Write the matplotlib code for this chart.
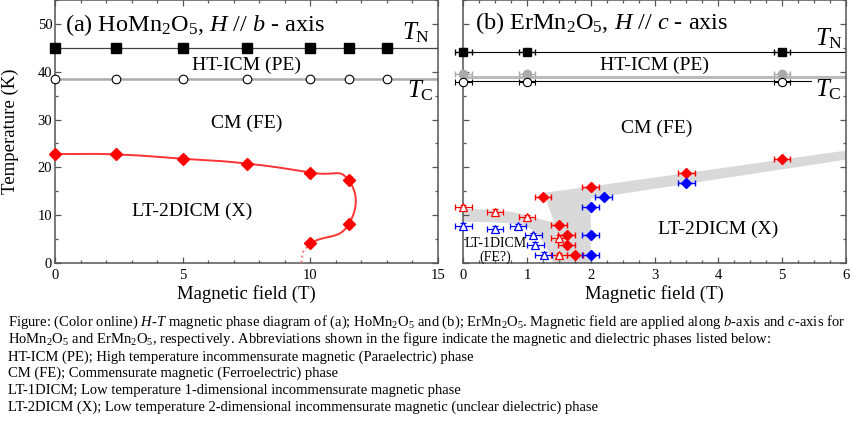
import numpy as np
import matplotlib
matplotlib.use('Agg')
import matplotlib.pyplot as plt
from matplotlib.ticker import MultipleLocator

plt.rcParams['font.family'] = ['Liberation Serif', 'DejaVu Serif']
plt.rcParams['mathtext.fontset'] = 'custom'
plt.rcParams['mathtext.rm'] = 'Liberation Serif'
plt.rcParams['mathtext.it'] = 'Liberation Serif:italic'
plt.rcParams['mathtext.bf'] = 'Liberation Serif:bold'

# ---------------- (a) HoMn2O5, H // b ----------------
a_tn_H = [0, 2.4, 5, 7.5, 10, 11.5, 13]
a_tn_T = [44.9, 44.9, 44.9, 44.9, 44.9, 44.9, 44.9]
a_tc_H = [0, 2.4, 5, 7.5, 10, 11.5, 13]
a_tc_T = [38.4, 38.4, 38.4, 38.4, 38.4, 38.4, 38.4]
a_lt_H = [0, 2.4, 5, 7.5, 10, 11.5, 11.5, 10]
a_lt_T = [22.8, 22.7, 21.8, 20.8, 18.9, 17.3, 8.1, 4.2]
a_tail_H = [10, 9.72, 9.66, 9.65]
a_tail_T = [4.2, 2.4, 1.0, 0]

# ---------------- (b) ErMn2O5, H // c ----------------
b_tn_H = [0, 1, 5]
b_tn_T = [44.1, 44.1, 44.1]
b_tc_H = [0, 1, 5]
b_tc_T = [37.9, 37.9, 37.9]
b_tc2_T = [39.5, 39.5, 39.5]
b_tc_line_T = 38.0
b_tc_line_end = 5.45
b_gray_line_T = 38.9
b_red_d_H = [1.25, 2.0, 3.5, 5.0, 1.5, 1.62, 1.62, 1.75]
b_red_d_T = [13.8, 15.8, 18.9, 21.7, 7.9, 5.8, 3.8, 1.7]
b_blue_d_H = [2.2, 2.0, 3.5, 2.0, 2.0]
b_blue_d_T = [13.8, 11.8, 16.8, 5.9, 1.7]
b_red_t_H = [0, 0.5, 1.0, 1.5, 1.5]
b_red_t_T = [11.7, 10.7, 9.6, 5.3, 1.6]
b_blue_t_H = [0, 0.5, 0.86, 1.1, 1.13, 1.26]
b_blue_t_T = [7.8, 7.2, 7.7, 5.8, 3.8, 1.7]
b_xerr = 0.13

# gray phase-boundary bands in (b)
band_hi_H = [1.28, 2.0, 6.0]
band_hi_T = [14.7, 16.0, 23.5]
band_lo_H = [2.0, 6.0]
band_lo_T = [13.5, 21.6]
block_left_H = [1.28, 1.33, 1.40, 1.46, 1.52]
block_left_T = [14.7, 12.0, 9.5, 6.0, 0.0]
block_right_H = 2.0
d1_top_H = [0, 0.5, 0.8, 1.0, 1.15, 1.3, 1.42]
d1_top_T = [11.3, 11.1, 10.6, 10.0, 9.4, 8.8, 8.5]
d1_bot_H = [0, 0.45, 0.75, 1.0, 1.15, 1.26, 1.36, 1.41]
d1_bot_T = [8.6, 8.5, 8.3, 7.6, 6.3, 4.2, 1.7, 0.0]

xlabel = 'Magnetic field (T)'
ylabel = 'Temperature (K)'

caption = [
    r'Figure: (Color online) $H$-$T$ magnetic phase diagram of (a); HoMn$_2$O$_5$ and (b); ErMn$_2$O$_5$. Magnetic field are applied along $b$-axis and $c$-axis for',
    r'HoMn$_2$O$_5$ and ErMn$_2$O$_5$, respectively. Abbreviations shown in the figure indicate the magnetic and dielectric phases listed below:',
    'HT-ICM (PE); High temperature incommensurate magnetic (Paraelectric) phase',
    'CM (FE); Commensurate magnetic (Ferroelectric) phase',
    'LT-1DICM; Low temperature 1-dimensional incommensurate magnetic phase',
    'LT-2DICM (X); Low temperature 2-dimensional incommensurate magnetic (unclear dielectric) phase',
]

W, H = 852, 423
fig = plt.figure(figsize=(W / 100, H / 100), dpi=100)
ax1 = fig.add_axes([55 / W, 160 / H, 383 / W, 263 / H])
ax2 = fig.add_axes([463.3 / W, 160 / H, 382.4 / W, 263 / H])

spc = '#555555'
for ax, xmax, xmaj, xmin in [(ax1, 15, 5, 1), (ax2, 6, 1, 0.25)]:
    ax.set_xlim(0, xmax)
    ax.set_ylim(0, 55)
    ax.xaxis.set_major_locator(MultipleLocator(xmaj))
    ax.xaxis.set_minor_locator(MultipleLocator(xmin))
    ax.yaxis.set_major_locator(MultipleLocator(10))
    ax.yaxis.set_minor_locator(MultipleLocator(5))
    ax.tick_params(which='both', direction='in', top=True, right=True,
                   color=spc, width=0.9, labelsize=10.5)
    ax.tick_params(which='major', length=4.5)
    ax.tick_params(which='minor', length=2.5)
    ax.tick_params(axis='x', pad=4)
    ax.tick_params(axis='y', pad=2)
    for s in ax.spines.values():
        s.set_color(spc)
        s.set_linewidth(1.1)
    ax.set_xlabel(xlabel, fontsize=13.5)
    ax.xaxis.set_label_coords(0.5, -0.083)

ax2.tick_params(axis='y', labelleft=False)
ax1.set_ylabel(ylabel, fontsize=13.5)
ax1.yaxis.set_label_coords(-0.093, 0.5)


def cardinal(ax, xs, ys, c=0.75, n=40):
    P = ax.transData.transform(np.column_stack([xs, ys]))
    Pe = np.vstack([2 * P[0] - P[1], P, 2 * P[-1] - P[-2]])
    t = np.linspace(0, 1, n)[:, None]
    h00 = 2 * t**3 - 3 * t**2 + 1
    h10 = t**3 - 2 * t**2 + t
    h01 = -2 * t**3 + 3 * t**2
    h11 = t**3 - t**2
    segs = []
    for i in range(len(P) - 1):
        p0, p1, p2, p3 = Pe[i:i + 4]
        m1 = c * (p2 - p0)
        m2 = c * (p3 - p1)
        segs.append(h00 * p1 + h10 * m1 + h01 * p2 + h11 * m2)
    S = np.vstack(segs)
    return ax.transData.inverted().transform(S)


# ---------------- panel (a) ----------------
ax1.axhline(np.mean(a_tn_T), color='#444444', lw=0.9, zorder=2)
ax1.axhline(np.mean(a_tc_T), color='#aaaaaa', lw=1.8, zorder=2)
ax1.errorbar(a_tn_H, a_tn_T, yerr=0.8, fmt='s', ms=6.8, color='black',
             mfc='black', mec='black', capsize=2, elinewidth=1, zorder=5,
             clip_on=False)
ax1.errorbar(a_tc_H, a_tc_T, yerr=0.5, fmt='o', ms=6.2, color='black',
             mfc='white', mec='black', mew=0.8, capsize=2, elinewidth=0.8,
             zorder=5, clip_on=False)
curve = cardinal(ax1, a_lt_H, a_lt_T)
ax1.plot(curve[:, 0], curve[:, 1], color='#ff3333', lw=1.4, zorder=3)
ax1.plot(a_tail_H, a_tail_T, color='#ff7777', lw=1.4, ls=':', zorder=3)
ax1.errorbar(a_lt_H, a_lt_T, yerr=0.6, fmt='D', ms=6, color='red',
             mfc='red', mec='red', capsize=2, elinewidth=1, zorder=6,
             clip_on=False)

ax1.text(0.39, 48.6, r'(a) HoMn$_2$O$_5$, $H$ // $b$ - axis', fontsize=17.5,
         ha='left', va='baseline')
ax1.text(13.58, 46.7, r'$T_{\mathrm{N}}$', fontsize=18, ha='left', va='baseline')
ax1.text(13.77, 34.7, r'$T_{\mathrm{C}}$', fontsize=18, ha='left', va='baseline')
ax1.text(7.5, 41.4, 'HT-ICM (PE)', fontsize=14, ha='center', va='center')
ax1.text(7.5, 29.2, 'CM (FE)', fontsize=14, ha='center', va='center')
ax1.text(5.39, 10.7, 'LT-2DICM (X)', fontsize=14, ha='center', va='center')

# ---------------- panel (b) ----------------
gray = '#d9d9d9'
up_x = band_hi_H + band_lo_H[::-1] + [block_right_H] + block_left_H[::-1]
up_y = band_hi_T + band_lo_T[::-1] + [0.0] + block_left_T[::-1]
ax2.fill(up_x, up_y, color=gray, lw=0, zorder=1)
d1_x = d1_top_H + [block_left_H[-1]] + d1_bot_H[::-1]
d1_y = d1_top_T + [0.0] + d1_bot_T[::-1]
ax2.fill(d1_x, d1_y, color=gray, lw=0, zorder=1)

ax2.axhline(np.mean(b_tn_T), color='black', lw=0.8, zorder=2)
ax2.axhline(b_gray_line_T, color='#bbbbbb', lw=2.2, zorder=2)
ax2.plot([0, b_tc_line_end], [b_tc_line_T, b_tc_line_T], color='black', lw=0.8, zorder=2)

ax2.errorbar(b_tc_H, b_tc2_T, xerr=b_xerr, fmt='o', ms=6, color='#aaaaaa',
             mfc='#aaaaaa', mec='#aaaaaa', capsize=2, elinewidth=1, zorder=4,
             clip_on=False)
ax2.errorbar(b_tn_H, b_tn_T, xerr=b_xerr, yerr=0.5, fmt='s', ms=6, color='black',
             mfc='black', mec='black', capsize=2, elinewidth=1, zorder=5,
             clip_on=False)
ax2.errorbar(b_tc_H, b_tc_T, xerr=b_xerr, fmt='o', ms=6, color='black',
             mfc='white', mec='black', mew=0.8, capsize=2, elinewidth=0.8,
             zorder=5, clip_on=False)
ax2.errorbar(b_red_t_H, b_red_t_T, xerr=b_xerr, yerr=0.5, fmt='^', ms=6,
             color='red', mfc='white', mec='red', mew=0.9, capsize=2,
             elinewidth=0.9, zorder=5, clip_on=False)
ax2.errorbar(b_blue_t_H, b_blue_t_T, xerr=b_xerr, yerr=0.5, fmt='^', ms=6,
             color='blue', mfc='white', mec='blue', mew=0.9, capsize=2,
             elinewidth=0.9, zorder=5, clip_on=False)
ax2.errorbar(b_red_d_H, b_red_d_T, xerr=b_xerr, fmt='D', ms=5.5, color='red',
             mfc='red', mec='red', capsize=2, elinewidth=1, zorder=6,
             clip_on=False)
ax2.errorbar(b_blue_d_H, b_blue_d_T, xerr=b_xerr, fmt='D', ms=5.5, color='blue',
             mfc='blue', mec='blue', capsize=2, elinewidth=1, zorder=6,
             clip_on=False)

ax2.text(0.18, 48.9, r'(b) ErMn$_2$O$_5$, $H$ // $c$ - axis', fontsize=17.5,
         ha='left', va='baseline')
ax2.text(5.52, 45.6, r'$T_{\mathrm{N}}$', fontsize=18, ha='left', va='baseline')
ax2.text(5.52, 34.8, r'$T_{\mathrm{C}}$', fontsize=18, ha='left', va='baseline')
ax2.text(3.0, 41.4, 'HT-ICM (PE)', fontsize=14, ha='center', va='center')
ax2.text(3.04, 28.2, 'CM (FE)', fontsize=14, ha='center', va='center')
ax2.text(4.0, 7.1, 'LT-2DICM (X)', fontsize=14, ha='center', va='center')
ax2.text(0.5, 2.6, 'LT-1DICM\n(FE?)', fontsize=10, ha='center', va='center',
         linespacing=1.0, zorder=7)

# ---------------- caption ----------------
baselines = [326, 342.7, 360.5, 377.3, 394.3, 411]
for line, yb in zip(caption, baselines):
    fig.text(8 / W, 1 - yb / H, line, fontsize=10.55, ha='left', va='baseline')

fig.savefig('out.png', dpi=100)
